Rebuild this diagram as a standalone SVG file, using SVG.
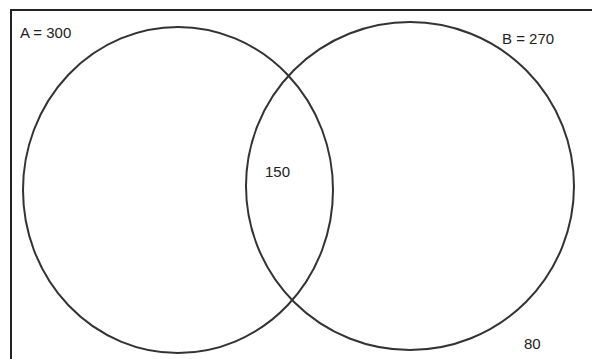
<svg xmlns="http://www.w3.org/2000/svg" width="592" height="359" viewBox="0 0 592 359">
<style>
.frame{stroke:#222;stroke-width:2;fill:none}
.set{fill:none;stroke:#333;stroke-width:2}
.lbl{font-family:"Liberation Sans",Arial,sans-serif;font-size:15px;fill:#222}
</style>
<rect width="592" height="359" fill="#fff"/>
<g id="frame">
<path class="frame" d="M11 359 V10 H592"/>
</g>
<g id="setA">
<ellipse class="set" cx="178" cy="190" rx="155" ry="163"/>
<text class="lbl" x="20" y="38">A = 300</text>
</g>
<g id="setB">
<ellipse class="set" cx="410" cy="186" rx="164" ry="164"/>
<text class="lbl" x="502" y="44">B = 270</text>
</g>
<g id="intersection">
<text class="lbl" x="265" y="177">150</text>
</g>
<g id="outside">
<text class="lbl" x="524" y="349">80</text>
</g>
<g id="connectors"/>
</svg>
